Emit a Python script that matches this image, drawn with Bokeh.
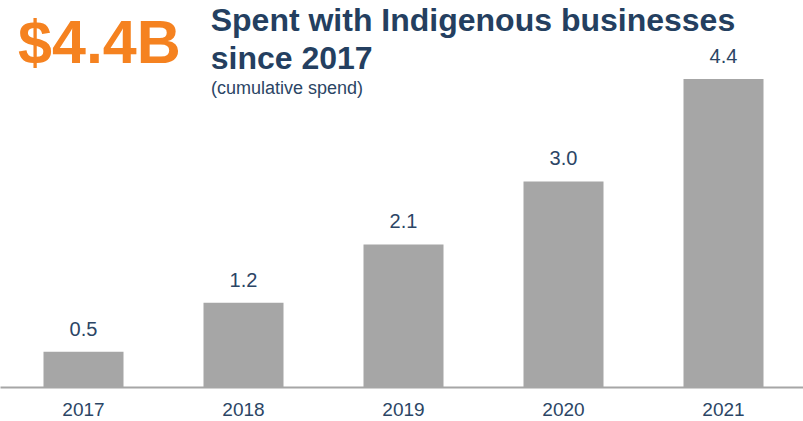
from bokeh.plotting import figure
from bokeh.models import Range1d, FixedTicker, ColumnDataSource
from bokeh.core.properties import value
from bokeh.embed import file_html
from bokeh.resources import INLINE

# ---- data ----
years = ["2017", "2018", "2019", "2020", "2021"]
spend = [0.51, 1.21, 2.04, 2.94, 4.40]          # bar heights ($B)
spend_labels = ["0.5", "1.2", "2.1", "3.0", "4.4"]
headline = "$4.4B"
title_lines = ["Spent with Indigenous businesses", "since 2017"]
subtitle = "(cumulative spend)"

FONT = "Liberation Sans"
NAVY = "#243f60"
LABEL = "#2b4565"
ORANGE = "#f58220"
BAR = "#a6a6a6"

xs = list(range(len(years)))

p = figure(width=803, height=421,
           x_range=Range1d(-0.51875, 4.5), y_range=Range1d(0, 5.52),
           output_backend="svg", toolbar_location=None,
           min_border_left=0, min_border_right=0, min_border_top=0,
           min_border_bottom=34)
p.outline_line_color = None
p.background_fill_color = "white"
p.border_fill_color = "white"
p.xgrid.visible = False
p.ygrid.visible = False
p.yaxis.visible = False

src = ColumnDataSource(dict(x=xs, top=spend, lab=spend_labels))
p.vbar(x="x", top="top", bottom=0, width=0.5, source=src,
       fill_color=BAR, line_color=None)
p.text(x="x", y="top", text="lab", source=src, y_offset=-23,
       text_align="center", text_baseline="alphabetic",
       text_font=value(FONT), text_font_size="20px", text_color=LABEL)

ax = p.xaxis[0]
ax.ticker = FixedTicker(ticks=xs)
ax.major_label_overrides = {i: y for i, y in zip(xs, years)}
ax.major_tick_out = 0
ax.major_tick_in = 0
ax.minor_tick_out = 0
ax.minor_tick_in = 0
ax.axis_line_color = BAR
ax.axis_line_width = 2
ax.major_label_standoff = 15
ax.major_label_text_font = FONT
ax.major_label_text_font_size = "19px"
ax.major_label_text_color = LABEL

# headline texts (placed in data coordinates)
p.text(x=[-0.409], y=[4.932], text=[headline], text_font=value(FONT),
       text_font_style="bold", text_font_size="61px", text_color=ORANGE,
       text_baseline="alphabetic", text_align="left")
p.text(x=[0.795, 0.795], y=[5.242, 4.696], text=title_lines, text_font=value(FONT),
       text_font_style="bold", text_font_size="32px", text_color=NAVY,
       text_baseline="alphabetic", text_align="left")
p.text(x=[0.797], y=[4.273], text=[subtitle], text_font=value(FONT),
       text_font_size="18px", text_color=LABEL,
       text_baseline="alphabetic", text_align="left")

open("out.html", "w").write(file_html(p, INLINE))
